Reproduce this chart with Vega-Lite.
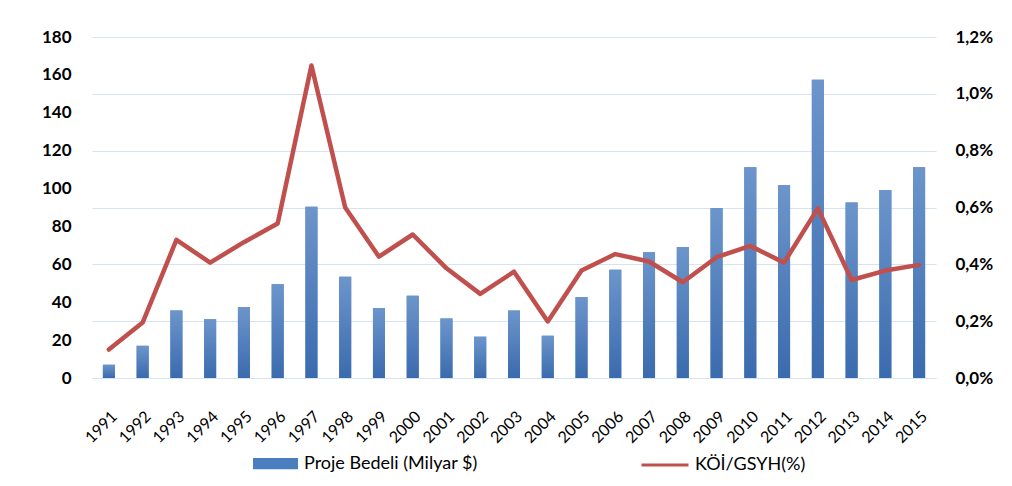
{
  "$schema": "https://vega.github.io/schema/vega-lite/v6.json",
  "width": 844,
  "height": 341,
  "autosize": {"type": "none"},
  "padding": {"left": 92, "top": 37, "right": 76, "bottom": 108},
  "background": "white",
  "config": {"font": "Lato", "view": {"stroke": null}},
  "data": {
    "values": [
      {"year": "1991", "proje": 7, "koi": 0.10},
      {"year": "1992", "proje": 17, "koi": 0.195},
      {"year": "1993", "proje": 35.6, "koi": 0.486},
      {"year": "1994", "proje": 31, "koi": 0.406},
      {"year": "1995", "proje": 37.4, "koi": 0.478},
      {"year": "1996", "proje": 49.5, "koi": 0.544},
      {"year": "1997", "proje": 90.4, "koi": 1.10},
      {"year": "1998", "proje": 53.5, "koi": 0.60},
      {"year": "1999", "proje": 36.9, "koi": 0.427},
      {"year": "2000", "proje": 43.4, "koi": 0.505},
      {"year": "2001", "proje": 31.4, "koi": 0.386},
      {"year": "2002", "proje": 21.8, "koi": 0.296},
      {"year": "2003", "proje": 35.6, "koi": 0.374},
      {"year": "2004", "proje": 22.3, "koi": 0.199},
      {"year": "2005", "proje": 42.7, "koi": 0.378},
      {"year": "2006", "proje": 57.2, "koi": 0.436},
      {"year": "2007", "proje": 66.4, "koi": 0.41},
      {"year": "2008", "proje": 69.2, "koi": 0.337},
      {"year": "2009", "proje": 89.7, "koi": 0.425},
      {"year": "2010", "proje": 111.3, "koi": 0.465},
      {"year": "2011", "proje": 101.7, "koi": 0.406},
      {"year": "2012", "proje": 157.5, "koi": 0.597},
      {"year": "2013", "proje": 92.7, "koi": 0.345},
      {"year": "2014", "proje": 99.2, "koi": 0.378},
      {"year": "2015", "proje": 111.3, "koi": 0.398}
    ]
  },
  "encoding": {
    "x": {
      "field": "year",
      "type": "nominal",
      "sort": null,
      "scale": {"paddingInner": 0, "paddingOuter": 0},
      "axis": {
        "title": null,
        "labelAngle": -45,
        "labelFontSize": 16,
        "labelColor": "#000000",
        "labelPadding": 30,
        "ticks": false,
        "domainColor": "#D5E3F3",
        "domainWidth": 1
      }
    }
  },
  "layer": [
    {
      "mark": {"type": "bar", "size": 12},
      "encoding": {
        "y": {
          "field": "proje",
          "type": "quantitative",
          "scale": {"domain": [0, 180], "nice": false},
          "axis": {
            "orient": "left",
            "title": null,
            "values": [0, 20, 40, 60, 80, 100, 120, 140, 160, 180],
            "grid": false,
            "domain": false,
            "ticks": false,
            "labelFontSize": 17,
            "labelFontWeight": "bold",
            "labelColor": "#000000",
            "labelPadding": 21
          }
        },
        "fill": {
          "datum": "Proje Bedeli (Milyar $)",
          "scale": {"range": ["#4A7EBE"]},
          "legend": {
            "orient": "none",
            "legendX": 161,
            "legendY": 404,
            "title": null,
            "symbolType": "M-1,-0.25H1V0.25H-1Z",
            "symbolSize": 2025,
            "symbolStrokeWidth": 0,
            "labelFontSize": 18,
            "labelColor": "#000000",
            "labelOffset": 6,
            "labelLimit": 300
          }
        }
      }
    },
    {
      "mark": {
        "type": "bar",
        "size": 12,
        "fill": {
          "gradient": "linear",
          "x1": 0, "y1": 0, "x2": 0, "y2": 1,
          "stops": [
            {"offset": 0, "color": "#6C95CB"},
            {"offset": 1, "color": "#3A6BAE"}
          ]
        }
      },
      "encoding": {
        "y": {
          "field": "proje",
          "type": "quantitative",
          "scale": {"domain": [0, 180], "nice": false},
          "axis": null
        }
      }
    },
    {
      "mark": {"type": "line", "strokeWidth": 4.5, "strokeJoin": "round", "strokeCap": "round"},
      "encoding": {
        "y": {
          "field": "koi",
          "type": "quantitative",
          "scale": {"domain": [0, 1.2], "nice": false},
          "axis": {
            "orient": "right",
            "title": null,
            "values": [0, 0.2, 0.4, 0.6, 0.8, 1.0, 1.2],
            "grid": true,
            "gridColor": "#D5E3F3",
            "gridWidth": 1,
            "domain": false,
            "ticks": false,
            "labelFontSize": 17,
            "labelFontWeight": "bold",
            "labelColor": "#000000",
            "labelPadding": 19,
            "labelExpr": "replace(format(datum.value, '.1f'), '.', ',') + '%'"
          }
        },
        "stroke": {
          "datum": "KÖİ/GSYH(%)",
          "scale": {"range": ["#C0504D"]},
          "legend": {
            "orient": "none",
            "legendX": 548,
            "legendY": 403,
            "title": null,
            "symbolType": "stroke",
            "symbolSize": 2209,
            "symbolStrokeWidth": 3,
            "labelFontSize": 18,
            "labelColor": "#000000",
            "labelOffset": 5,
            "labelLimit": 300
          }
        }
      }
    }
  ],
  "resolve": {"scale": {"y": "independent", "fill": "independent", "stroke": "independent"}}
}
